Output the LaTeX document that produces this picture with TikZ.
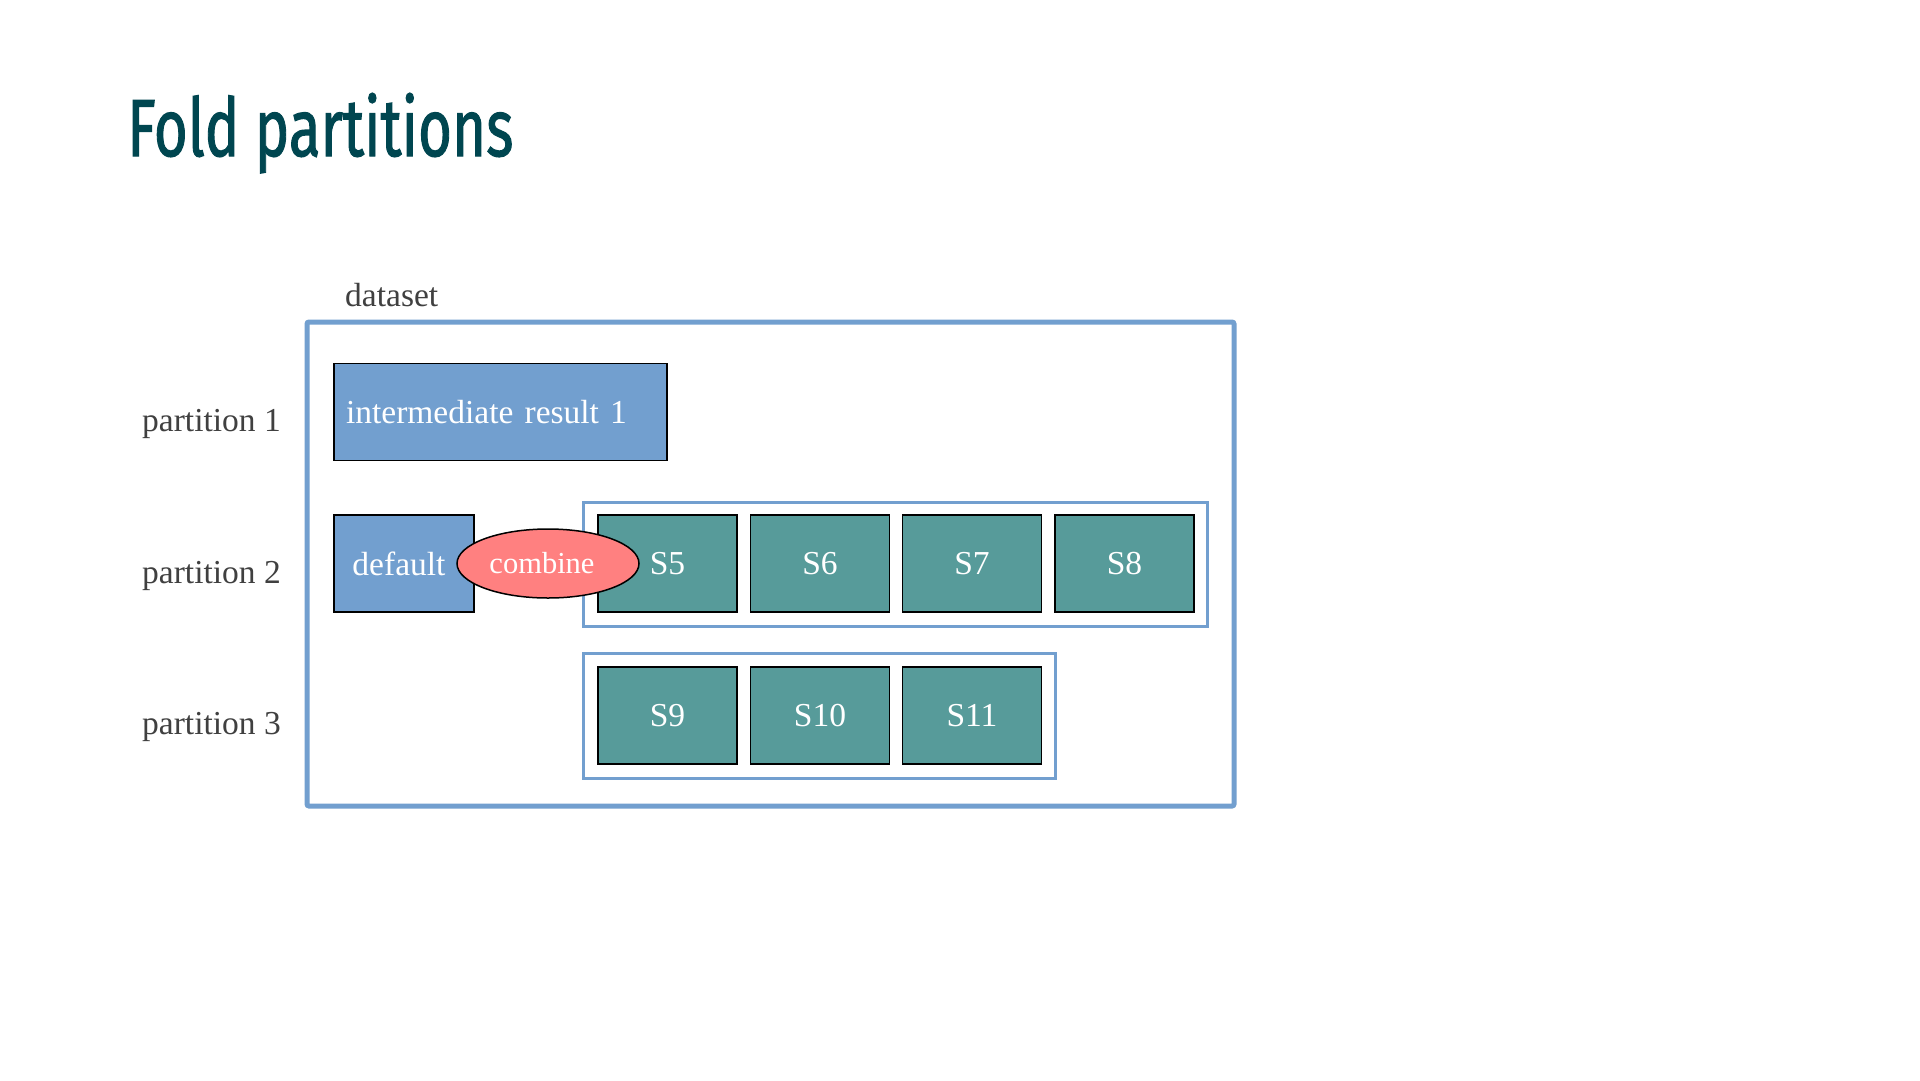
\documentclass[tikz,border=0pt]{standalone}
\usepackage{fontspec}
\setmainfont{Liberation Serif}
\newfontfamily\titlefont[FakeBold=1.5]{Fira Sans}
\usetikzlibrary{shapes.geometric}
\definecolor{titleteal}{RGB}{0,70,80}
\definecolor{skyblue}{RGB}{114,159,207}
\definecolor{seagreen}{RGB}{87,155,154}
\definecolor{salmon}{RGB}{255,128,128}
\definecolor{labelgray}{RGB}{64,64,64}

\begin{document}
\begin{tikzpicture}[x=1pt,y=-1pt,
        label text/.style={text=labelgray,font=\fontsize{33.5}{40}\selectfont,anchor=base west,inner sep=0},
        blue box/.style={draw=black,line width=1.5pt,fill=skyblue,text=white,inner sep=0,minimum height=97pt,font=\fontsize{33.5}{40}\selectfont},
        shard/.style={draw=black,line width=1.5pt,fill=seagreen,text=white,inner sep=0,minimum width=139pt,minimum height=97pt,font=\fontsize{33.5}{40}\selectfont},
        shardframe/.style={draw=skyblue,line width=3pt,inner sep=0},
    ]
            \useasboundingbox[fill=white] (0,0) rectangle (1920,1080);
            % title
            \node (title) at (127,156) [anchor=base west,inner sep=0,text=titleteal] {\resizebox{386pt}{63pt}{\titlefont Fold partitions}};
            % dataset
            \node (datasetbox) at (770.5,564) [draw=skyblue,line width=5pt,rounded corners=2pt,minimum width=927pt,minimum height=484pt,inner sep=0] {};
            \node (dataset) at (345,306) [label text] {dataset};
            \node (part1) at (142,431) [label text] {partition 1};
            \node (part2) at (142,583) [label text] {partition 2};
            \node (part3) at (142,734) [label text] {partition 3};
            % partition 1
            \node (inter) at (500.5,412) [blue box,minimum width=333pt,inner xsep=12pt,text width=309pt,align=left] {intermediate result 1};
            % partition 2
            \node (default) at (404,563.5) [blue box,minimum width=140pt] {default\kern10pt};
            \node (frame2) at (895,564) [shardframe,minimum width=624pt,minimum height=124pt] {};
            \node (s5) at (667.5,563.5) [shard] {S5};
            \node (s6) at (820,563.5) [shard] {S6};
            \node (s7) at (972,563.5) [shard] {S7};
            \node (s8) at (1124.5,563.5) [shard] {S8};
            \node (combine) at (548,563.5) [ellipse,draw=black,line width=1.5pt,fill=salmon,text=white,inner sep=0,minimum width=182pt,minimum height=69pt,font=\fontsize{30.5}{36}\selectfont] {combine\kern12pt};
            % partition 3
            \node (frame3) at (819,715.5) [shardframe,minimum width=472pt,minimum height=125pt] {};
            \node (s9) at (667.5,715.5) [shard] {S9};
            \node (s10) at (820,715.5) [shard] {S10};
            \node (s11) at (972,715.5) [shard] {S11};
        \end{tikzpicture}
\end{document}
